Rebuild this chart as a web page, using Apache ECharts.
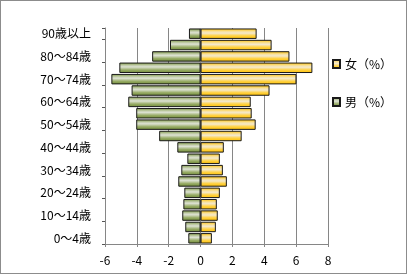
<!DOCTYPE html>
<html><head><meta charset="utf-8">
<script src="https://cdn.jsdelivr.net/npm/echarts@6/dist/echarts.min.js"></script>
<style>html,body{margin:0;padding:0;background:#fff}#c{width:407px;height:274px;box-sizing:border-box;border:1px solid #8c8c8c}</style>
</head><body><div id="c"></div>
<script>
var categories = ['0～4歳','5～9歳','10～14歳','15～19歳','20～24歳','25～29歳','30～34歳','35～39歳','40～44歳','45～49歳','50～54歳','55～59歳','60～64歳','65～69歳','70～74歳','75～79歳','80～84歳','85～89歳','90歳以上'];
var female = [0.71,0.96,1.08,1.02,1.21,1.65,1.40,1.21,1.46,2.58,3.46,3.21,3.15,4.33,6.02,7.02,5.58,4.46,3.52];
var male = [-0.77,-0.96,-1.15,-1.08,-1.02,-1.40,-1.21,-0.83,-1.46,-2.60,-4.04,-4.04,-4.54,-4.33,-5.60,-5.10,-3.04,-1.92,-0.73];
var xTicks = [-6,-4,-2,0,2,4,6,8];
var seriesNames = ['女（%）','男（%）'];

var fGrad = new echarts.graphic.LinearGradient(0,0,0,1,[{offset:0,color:'#FFC000'},{offset:0.3,color:'#F7E2A0'},{offset:0.45,color:'#F3E8CC'},{offset:0.7,color:'#FFD244'},{offset:1,color:'#FFC000'}]);
var mGrad = new echarts.graphic.LinearGradient(0,0,0,1,[{offset:0,color:'#77933C'},{offset:0.3,color:'#C9D2B4'},{offset:0.42,color:'#DCE1D2'},{offset:0.7,color:'#98AC66'},{offset:1,color:'#6E8935'}]);
var font = '"Noto Sans CJK JP", sans-serif';
var chart = echarts.init(document.getElementById('c'), null, {renderer:'canvas'});
chart.setOption({
  animation:false,
  grid:{left:104,right:78,top:27,bottom:29,containLabel:false},
  legend:{orient:'vertical',left:326,top:52,itemWidth:7,itemHeight:8,itemGap:26,
    textStyle:{fontFamily:font,fontSize:12,color:'#000'},
    data:[{name:seriesNames[0],icon:'rect'},{name:seriesNames[1],icon:'rect'}]},
  xAxis:{type:'value',min:xTicks[0],max:xTicks[xTicks.length-1],interval:2,
    axisLine:{show:true,onZero:false,lineStyle:{color:'#868686'}},
    axisTick:{show:true,length:3,lineStyle:{color:'#868686'}},
    axisLabel:{fontFamily:font,fontSize:12,color:'#000',margin:10},
    splitLine:{show:true,lineStyle:{color:'#868686'}}},
  yAxis:[{type:'category',data:categories,
    axisLine:{show:false},axisTick:{show:false},
    axisLabel:{interval:1,fontFamily:font,fontSize:12,color:'#000',margin:14}},
   {type:'category',data:categories,position:'left',
    axisLine:{show:true,onZero:true,lineStyle:{color:'#868686'}},
    axisTick:{show:true,length:3,lineStyle:{color:'#555'}},
    axisLabel:{show:false}}],
  series:[
   {name:seriesNames[0],type:'bar',data:female,barGap:'-100%',barCategoryGap:'8%',
    itemStyle:{color:fGrad,borderColor:'#1a1a1a',borderWidth:1}},
   {name:seriesNames[1],type:'bar',data:male,barGap:'-100%',barCategoryGap:'8%',
    itemStyle:{color:mGrad,borderColor:'#1a1a1a',borderWidth:1}}
  ]
});
</script></body></html>
